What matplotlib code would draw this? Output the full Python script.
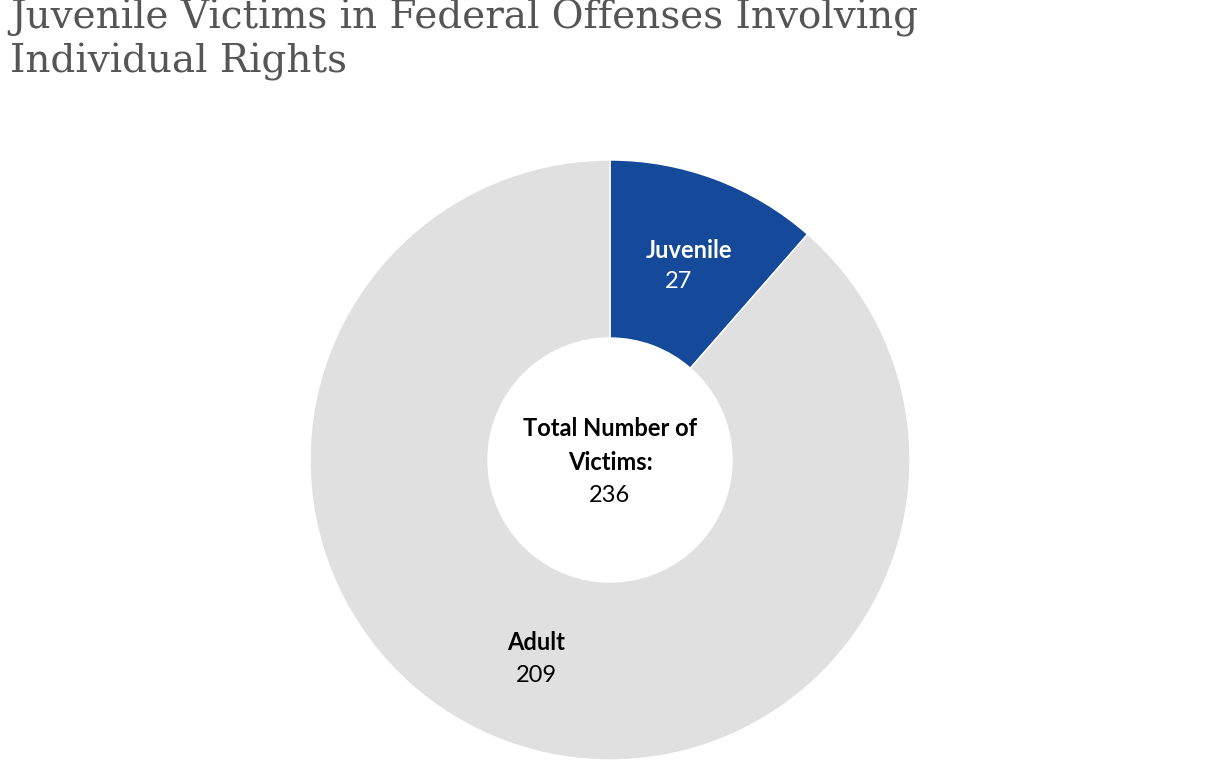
import matplotlib
matplotlib.use("Agg")
import matplotlib.pyplot as plt

categories = ["Juvenile", "Adult"]
values = [27, 209]
total = sum(values)
colors = ["#154a9a", "#e0e0e0"]

W, H = 1220, 772
fig = plt.figure(figsize=(W/100, H/100), dpi=100)
cx, cy, R = 610, 460, 300
ax = fig.add_axes([(cx-R)/W, 1-(cy+R)/H, 2*R/W, 2*R/H])
ax.pie(values, colors=colors, startangle=90, counterclock=False,
       radius=1, wedgeprops=dict(width=1-122/300, edgecolor="white", linewidth=1))
ax.set_xlim(-1, 1); ax.set_ylim(-1, 1); ax.set_aspect("equal"); ax.axis("off")

def t(x, y, s, **kw):
    fig.text(x/W, 1-y/H, s, ha="center", va="center", family="Lato", **kw)

fig.text(10/W, 1-40/H, "Juvenile Victims in Federal Offenses Involving\nIndividual Rights",
         ha="left", va="center", family="DejaVu Serif", fontsize=28, color="#555555",
         linespacing=1.2)
t(689, 250, categories[0], fontsize=17, weight="bold", color="white")
t(678, 282, str(values[0]), fontsize=17, color="white")
t(536, 642, categories[1], fontsize=17, weight="bold", color="black")
t(536, 676, str(values[1]), fontsize=17, color="black")
t(610, 429, "Total Number of", fontsize=17, weight="bold", color="black")
t(610, 462, "Victims:", fontsize=17, weight="bold", color="black")
t(610, 496, str(total), fontsize=17, color="black")
fig.savefig("out.png", dpi=100)
